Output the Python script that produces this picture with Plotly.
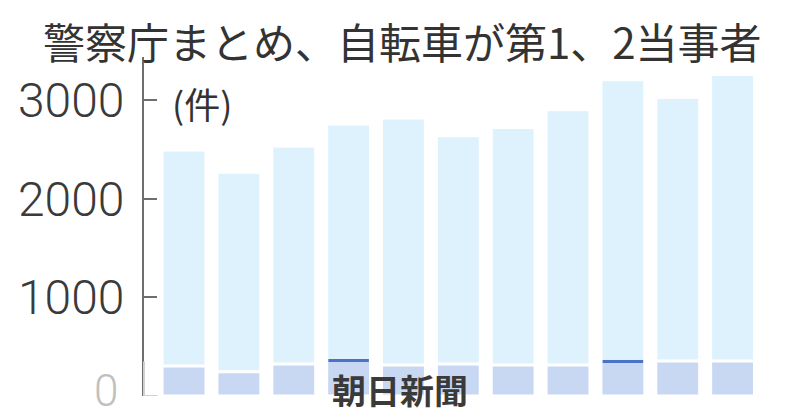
import plotly.graph_objects as go

# données (件)
years = [str(y) for y in range(2013, 2024)]
total = [2497, 2270, 2538, 2761, 2822, 2640, 2725, 2904, 3210, 3028, 3262]
bike = [305, 245, 325, 360, 315, 325, 315, 315, 350, 355, 355]
highlight = [False, False, False, True, False, False, False, False, True, False, False]

tick_vals = [1000, 2000, 3000]
tick_text = ["1000", "2000", "3000"]

fig = go.Figure()

# barres totales (fond clair)
fig.add_trace(go.Bar(x=years, y=total, marker_color="#def2fd",
                     marker_line=dict(color="white", width=3)))
# barres basses
fig.add_trace(go.Bar(x=years, y=bike, marker_color="#c8d8f3",
                     marker_line=dict(color="white", width=3)))
# traits bleus
hx = [x for x, h in zip(years, highlight) if h]
hy = [v for v, h in zip(bike, highlight) if h]
fig.add_trace(go.Scatter(x=hx, y=hy, mode="markers",
                         marker=dict(symbol="line-ew-open", size=29, color="#4a72c8",
                                     line=dict(color="#4a72c8", width=3))))

# la page a une marge de 8px -> figure un peu plus petite
fig.update_layout(
    width=792, height=409,
    margin=dict(l=136, r=40, t=49, b=21),
    paper_bgcolor="white", plot_bgcolor="white",
    barmode="overlay", bargap=0.2, showlegend=False,
    font=dict(family="Noto Sans CJK JP", color="#333"),
)
fig.update_xaxes(type="category", range=[-0.73, 10.5], showticklabels=False,
                 showline=False, showgrid=False, zeroline=False, ticks="",
                 automargin=False)
fig.update_yaxes(range=[0, 3440], tickvals=tick_vals, ticktext=tick_text,
                 showline=True, linecolor="#6e6e6e", linewidth=2,
                 ticks="inside", ticklen=13, tickcolor="#6e6e6e", tickwidth=2,
                 showgrid=False, zeroline=False, ticklabelstandoff=8,
                 automargin=False,
                 tickfont=dict(family="Roboto", weight=300, size=48, color="#3a3a3a"))

# partie basse de l'axe plus claire
fig.add_shape(type="line", xref="paper", yref="y", x0=0, x1=0, y0=0, y1=350,
              line=dict(color="#d0d0d0", width=2), layer="above")
fig.add_shape(type="line", xref="paper", yref="y", x0=0, x1=0.022, y0=0, y1=0,
              line=dict(color="#d0d0d0", width=2), layer="above")
# label 0 (clair)
fig.add_annotation(text="0", xref="paper", yref="y", x=0, y=0,
                   xanchor="right", yanchor="middle", xshift=-24, yshift=5,
                   showarrow=False,
                   font=dict(family="Roboto", weight=300, size=44, color="#c0c0c0"))

fig.add_annotation(text="警察庁まとめ、自転車が第1、2当事者", xref="paper", yref="paper",
                   x=0.42, y=1.0, xanchor="center", yanchor="top", yshift=49,
                   showarrow=False, font=dict(size=42, color="#333"))
fig.add_annotation(text="(件)", xref="paper", yref="paper", x=0.094, y=0.864,
                   xanchor="center", yanchor="middle",
                   showarrow=False, font=dict(size=36, color="#333"))
fig.add_annotation(text="<b>朝日新聞</b>", xref="paper", yref="paper", x=0.415, y=0.018,
                   xanchor="center", yanchor="middle",
                   showarrow=False, font=dict(size=34, color="#3a3a3a"))

fig.write_html("out.html")
